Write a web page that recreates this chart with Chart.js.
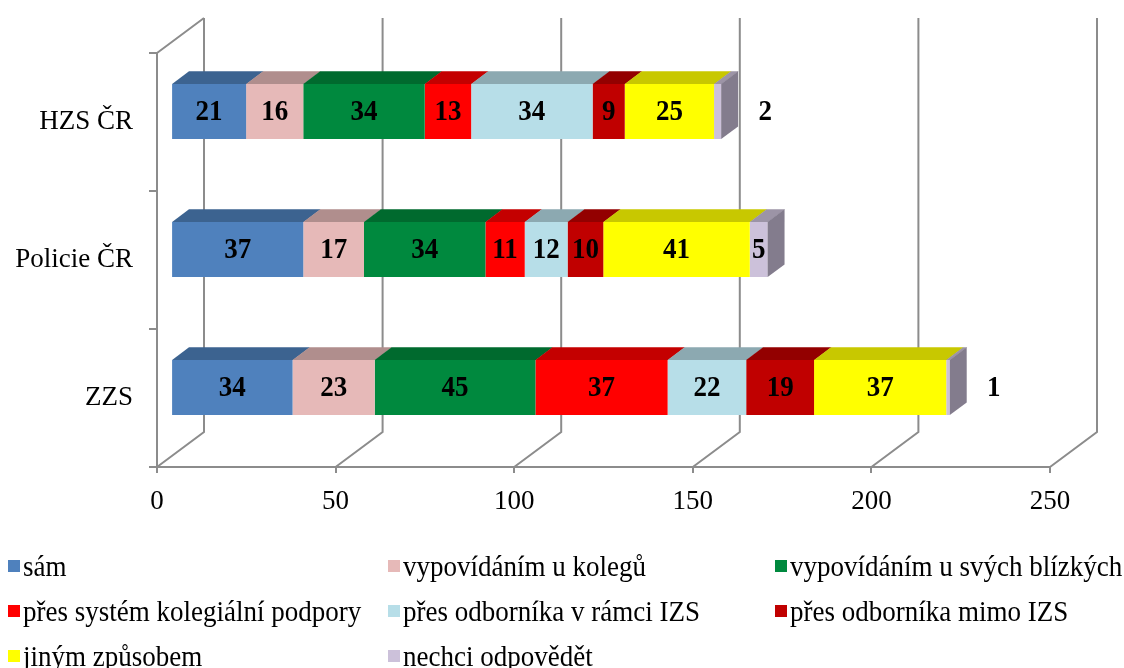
<!DOCTYPE html>
<html><head><meta charset="utf-8">
<script src="https://cdn.jsdelivr.net/npm/chart.js@4.4.1/dist/chart.umd.min.js"></script>
<style>
html,body{margin:0;padding:0;background:#fff;}
#wrap{position:relative;width:1124px;height:668px;overflow:hidden;background:#fff;}
canvas{position:absolute;left:0;top:0;}
.lg{position:absolute;font-family:"Liberation Serif","Times New Roman",serif;font-size:27px;color:#000;white-space:nowrap;line-height:30px;height:30px;}
.lg .sw{position:absolute;left:0;top:9px;width:12px;height:12px;}
.lg .tx{position:absolute;top:0;transform:scaleY(1.1);transform-origin:0 50%;}
</style></head>
<body><div id="wrap"><canvas id="c" width="1124" height="668"></canvas><div id="legend"></div></div>
<script>
// ---- data ----
const categories = ['HZS ČR', 'Policie ČR', 'ZZS'];
const seriesNames = ['sám', 'vypovídáním u kolegů', 'vypovídáním u svých blízkých',
  'přes systém kolegiální podpory', 'přes odborníka v rámci IZS', 'přes odborníka mimo IZS',
  'jiným způsobem', 'nechci odpovědět'];
const sam          = [21, 37, 34];
const kolegove     = [16, 17, 23];
const blizci       = [34, 34, 45];
const kolegialni   = [13, 11, 37];
const odbornikIZS  = [34, 12, 22];
const odbornikMimo = [9, 10, 19];
const jinym        = [25, 41, 37];
const nechci       = [2, 5, 1];
const xTicks = [0, 50, 100, 150, 200, 250];

// ---- styles ----
const frontColors = ['#4F81BD', '#E6B9B8', '#00893E', '#FF0000', '#B7DEE8', '#C00000', '#FFFF00', '#CCC1DA'];
const topColors   = ['#3C6390', '#B08E8D', '#006A2E', '#C40000', '#8CA9B1', '#930000', '#C8C800', '#9C94A6'];
const sideColors  = ['#2F4E72', '#8C7170', '#00521F', '#9E0000', '#6F868C', '#740000', '#A0A000', '#837C8D'];
const seriesData = [sam, kolegove, blizci, kolegialni, odbornikIZS, odbornikMimo, jinym, nechci];
const FONT = 'Liberation Serif';
const GRID = '#8c8c8c';
const DX = 47, DY = -35, F0 = 0.3, F1 = 0.36;

const threeD = {
  id: 'threeD',
  beforeDatasetsDraw(chart) {
    const ctx = chart.ctx, xs = chart.scales.x, a = chart.chartArea;
    ctx.save();
    ctx.strokeStyle = GRID; ctx.lineWidth = 2;
    ctx.beginPath();
    xTicks.forEach(v => {
      const x = xs.getPixelForValue(v);
      ctx.moveTo(x, a.bottom);
      ctx.lineTo(x + DX, a.bottom + DY);
      ctx.lineTo(x + DX, a.top + DY);
    });
    ctx.moveTo(a.left, a.top);
    ctx.lineTo(a.left + DX, a.top + DY);
    ctx.stroke();
    ctx.restore();
    ctx.save();
    ctx.translate(DX * F0, DY * F0);
  },
  afterDatasetsDraw(chart) {
    const ctx = chart.ctx;
    const bx = DX * F1, by = DY * F1;
    const n = chart.data.datasets.length;
    const ends = [];
    chart.data.labels.forEach((lab, i) => {
      let last = null;
      for (let d = 0; d < n; d++) {
        const v = chart.data.datasets[d].data[i];
        if (!v) continue;
        const el = chart.getDatasetMeta(d).data[i];
        const x0 = Math.min(el.base, el.x), x1 = Math.max(el.base, el.x);
        const top = el.y - el.height / 2, bot = el.y + el.height / 2;
        ctx.fillStyle = topColors[d];
        ctx.beginPath();
        ctx.moveTo(x0, top); ctx.lineTo(x1 + 0.5, top); ctx.lineTo(x1 + bx + 0.5, top + by); ctx.lineTo(x0 + bx, top + by);
        ctx.closePath(); ctx.fill();
        last = { d, x1, top, bot };
      }
      if (last) {
        ctx.fillStyle = sideColors[last.d];
        ctx.beginPath();
        ctx.moveTo(last.x1, last.top); ctx.lineTo(last.x1 + bx, last.top + by);
        ctx.lineTo(last.x1 + bx, last.bot + by); ctx.lineTo(last.x1, last.bot);
        ctx.closePath(); ctx.fill();
        ends[i] = last.x1;
      }
    });
    ctx.font = 'bold 27px "' + FONT + '"';
    ctx.fillStyle = '#000';
    ctx.textAlign = 'center';
    ctx.textBaseline = 'middle';
    for (let d = 0; d < n; d++) {
      chart.getDatasetMeta(d).data.forEach((el, i) => {
        const v = chart.data.datasets[d].data[i];
        if (!v) return;
        const txt = String(v);
        const x0 = Math.min(el.base, el.x), x1 = Math.max(el.base, el.x);
        const w = ctx.measureText(txt).width;
        const cx = (w <= x1 - x0 + 2) ? (x0 + x1) / 2 : ends[i] + 44;
        const cy = el.y + 1;
        ctx.save();
        ctx.translate(cx, cy);
        ctx.scale(1, 1.12);
        ctx.fillText(txt, 0, 0);
        ctx.restore();
      });
    }
    ctx.restore();
  }
};

new Chart(document.getElementById('c').getContext('2d'), {
  type: 'bar',
  data: {
    labels: categories,
    datasets: seriesData.map((arr, i) => ({
      label: seriesNames[i], data: arr, backgroundColor: frontColors[i],
      borderWidth: 0, barPercentage: 0.5, categoryPercentage: 0.8
    }))
  },
  options: {
    indexAxis: 'y', responsive: false, animation: false, devicePixelRatio: 1,
    layout: { padding: { left: 0, right: 74, top: 53, bottom: 151 } },
    plugins: { legend: { display: false }, tooltip: { enabled: false } },
    scales: {
      x: {
        stacked: true, min: 0, max: 250,
        ticks: { stepSize: 50, font: { family: FONT, size: 27 }, color: '#000', padding: 13, maxRotation: 0 },
        grid: { drawOnChartArea: false, drawTicks: true, tickLength: 6, color: GRID, lineWidth: 2 },
        border: { display: true, color: GRID, width: 2 },
        afterFit(s) { s.height = 50; }
      },
      y: {
        stacked: true,
        ticks: { font: { family: FONT, size: 27 }, color: '#000', padding: 16 },
        grid: { offset: true, drawOnChartArea: false, drawTicks: true, tickLength: 8, color: GRID, lineWidth: 2 },
        border: { display: true, color: GRID, width: 2 },
        afterFit(s) { s.width = 157; }
      }
    }
  },
  plugins: [threeD]
});

// legend (HTML, real text)
const lg = document.getElementById('legend');
const colX = [8, 388, 775], rowY = [566, 611, 656];
seriesNames.forEach((name, i) => {
  const div = document.createElement('div');
  div.className = 'lg';
  div.style.left = colX[i % 3] + 'px';
  div.style.top = (rowY[Math.floor(i / 3)] - 15) + 'px';
  div.innerHTML = '<span class="sw" style="background:' + frontColors[i] + '"></span><span class="tx" style="left:15px">' + name + '</span>';
  lg.appendChild(div);
});
</script>
</body></html>
